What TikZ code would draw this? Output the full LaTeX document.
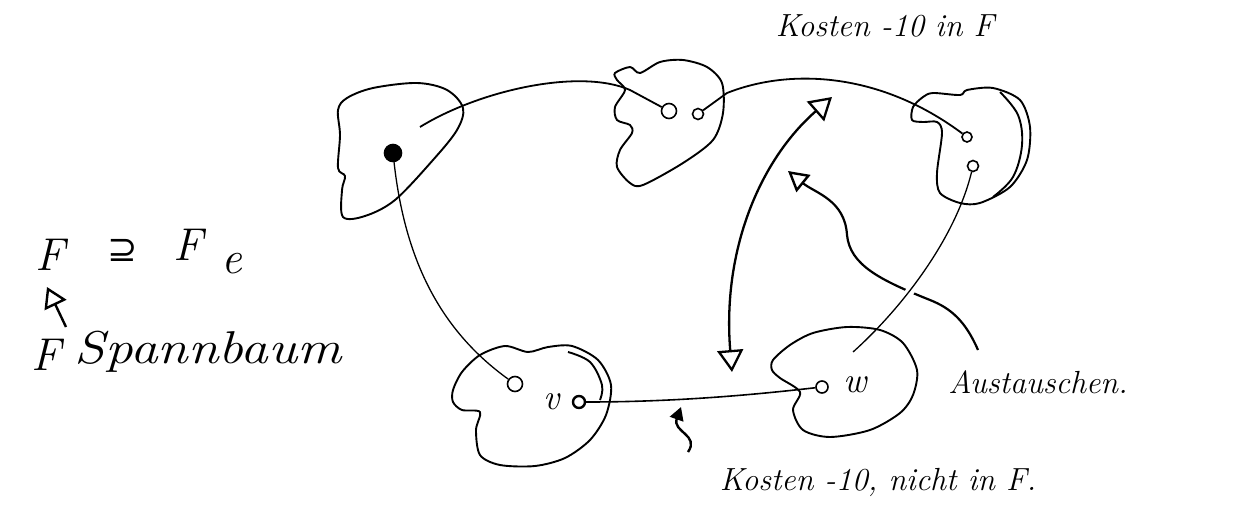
\documentclass[tikz,border=0pt]{standalone}
\usepackage{fontspec}
\newfontfamily\symf{DejaVu Sans}
\usetikzlibrary{arrows.meta}
\begin{document}
\begin{tikzpicture}[x=1pt,y=-1pt,
  blob/.style={draw, line width=1.9pt, line join=round},
  edge/.style={draw, line width=1.3pt},
  vtx/.style={circle, draw, line width=1.6pt, inner sep=0pt, minimum size=13pt},
  hand/.style={font=\itshape\fontsize{32}{38}\selectfont, inner sep=0pt},
  big/.style={font=\itshape\fontsize{46}{52}\selectfont, inner sep=0pt},
  bigarrow/.style={draw, line width=2.3pt, {Triangle[open,length=22pt,width=26pt,line width=2.3pt]}-{Triangle[open,length=22pt,width=26pt,line width=2.3pt]}},
  ptr/.style={draw, line width=2.2pt, -{Triangle[open,length=20pt,width=22pt,line width=2.4pt]}}]
\useasboundingbox (0,0) rectangle (1259,509);

% components (blobs)
\draw[blob] plot[smooth cycle, tension=0.55] coordinates {(347,98) (373,88) (417,83) (447,90) (463,108) (457,130) (433,160) (395,200) (365,216) (343,217) (342,190) (345,176) (338,168) (340,135) (338,110)};
\draw[blob] plot[smooth cycle, tension=0.5] coordinates {(615,73) (630,67) (640,73) (660,62) (683,60) (707,67) (722,83) (723,113) (713,140) (683,163) (643,185) (630,183) (617,167) (620,150) (632,133) (630,125) (617,120) (615,107) (625,90) (617,80)};
\draw[blob] plot[smooth cycle, tension=0.5] coordinates {(912,120) (913,107) (923,97) (933,93) (960,95) (967,90) (993,88) (1020,100) (1030,127) (1027,160) (1010,187) (980,203) (960,203) (940,193) (937,173) (942,133) (937,122) (923,122)};
\draw[blob] plot[smooth, tension=0.6] coordinates {(1000,92) (1018,115) (1022,145) (1013,177) (993,197)};
\draw[blob] plot[smooth cycle, tension=0.5] coordinates {(453,390) (462,372) (480,355) (505,346) (528,352) (548,347) (572,346) (598,360) (611,385) (606,415) (590,440) (565,458) (535,466) (500,465) (480,455) (476,430) (480,412) (462,410) (453,402)};
\draw[blob] plot[smooth, tension=0.6] coordinates {(568,352) (590,362) (602,385) (600,400)};
\draw[blob] plot[smooth cycle, tension=0.5] coordinates {(773,360) (790,345) (813,333) (847,327) (880,330) (903,343) (917,370) (913,395) (900,413) (870,430) (830,437) (803,430) (793,410) (800,392) (780,378) (772,370)};

% vertices
\node[vtx, fill=black, minimum size=17pt] (a) at (393,153) {};
\node[vtx, minimum size=15pt] (b1) at (669,111) {};
\node[vtx, minimum size=11pt] (b2) at (698,114) {};
\node[vtx, minimum size=10pt] (c1) at (967,137) {};
\node[vtx, minimum size=11pt] (c2) at (973,166) {};
\node[vtx, minimum size=15pt] (v1) at (515,384) {};
\node[vtx, minimum size=12pt, line width=2.4pt] (v2) at (579,402) {};
\node[vtx, minimum size=12pt] (w1) at (822,387) {};
\node[hand, font=\itshape\fontsize{36}{40}\selectfont] (vl) at (552,402) {v};
\node[hand, font=\itshape\fontsize{36}{40}\selectfont] (wl) at (855,385) {w};

\coordinate (aa) at (420,127);
\coordinate (bb) at (727,93);
\coordinate (wend) at (853,352);

% edges
\draw[edge, line width=1.8pt] (aa) .. controls (480,90) and (580,68) .. (630,90) -- (b1);
\draw[edge, line width=1.8pt] (b2) -- (bb) .. controls (790,68) and (880,72) .. (c1);
\draw[edge] (a) .. controls (405,260) and (440,330) .. (v1);

% Austauschen pointer
\coordinate (au1) at (978,350);
\coordinate (au2) at (788,171);
\draw[ptr] (au1) .. controls (965,320) and (950,308) .. (930,300) .. controls (880,280) and (850,265) .. (847,235) .. controls (845,200) and (815,193) .. (au2);

% edge to w (crosses over the pointer)
\draw[white, line width=9pt] (922,270) -- (905,300);
\draw[edge] (c2) .. controls (955,240) and (900,310) .. (wend);
\draw[edge, line width=1.6pt] (v2) .. controls (680,402) and (760,394) .. (w1);

% exchange double arrow
\coordinate (da1) at (732,372);
\coordinate (da2) at (832,97);
\draw[bigarrow] (da1) .. controls (722,250) and (760,160) .. (da2);

% small pointer to v-w edge
\coordinate (sq1) at (688,452);
\coordinate (sq2) at (681,407);
\draw[line width=2.4pt, -{Triangle[length=13pt,width=14pt]}] (sq1) .. controls (700,435) and (672,432) .. (sq2);

% texts
\node[hand] (t1) at (885,26) {Kosten -10 in F};
\node[hand] (t2) at (878,482) {Kosten -10, nicht in F.};
\node[hand] (t3) at (1038,382) {Austauschen.};
\node[big] (f1) at (50,255) {F};
\node[inner sep=0pt, font=\symf\fontsize{36}{40}\selectfont] (sup) at (123,250) {⊇};
\node[big] (f2) at (188,245) {F};
\node[big] (fe) at (232,264) {e};
\node[big] (f3) at (46,355) {F};
\node[big] (t5) at (208,352) {\scalebox{1.2}[1]{Spannbaum}};
\coordinate (up1) at (66,327);
\coordinate (up2) at (47,287);
\draw[line width=2.4pt, -{Triangle[open,length=20pt,width=24pt,line width=2.4pt]}] (up1) -- (up2);
\end{tikzpicture}
\end{document}
